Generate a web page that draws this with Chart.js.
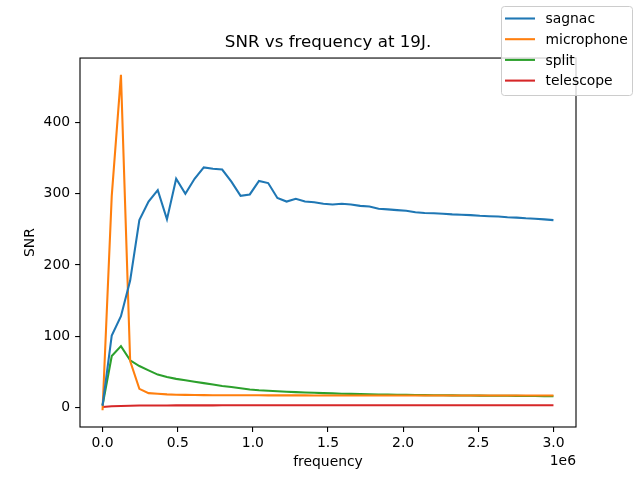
<!DOCTYPE html>
<html>
<head>
<meta charset="utf-8">
<script src="https://cdn.jsdelivr.net/npm/chart.js@4/dist/chart.umd.min.js"></script>
<style>
  html, body { margin: 0; padding: 0; background: #fff; }
  canvas { display: block; }
</style>
</head>
<body>
<canvas id="snrChart" width="640" height="480"></canvas>
<script>
// frequency steps (Hz)
const frequency = [0, 61224, 122449, 183673, 244898, 306122, 367347, 428571, 489796, 551020,
  612245, 673469, 734694, 795918, 857143, 918367, 979592, 1040816, 1102041, 1163265,
  1224490, 1285714, 1346939, 1408163, 1469388, 1530612, 1591837, 1653061, 1714286, 1775510,
  1836735, 1897959, 1959184, 2020408, 2081633, 2142857, 2204082, 2265306, 2326531, 2387755,
  2448980, 2510204, 2571429, 2632653, 2693878, 2755102, 2816327, 2877551, 2938776, 3000000];

const sagnac = [2, 101, 128, 178, 263, 289, 305, 264, 321, 300,
  321, 337, 335, 334, 317, 297, 299, 318, 315, 294,
  289, 293, 289, 288, 286, 285, 286, 285, 283, 282,
  279, 278, 277, 276, 274, 273, 272.5, 272, 271, 270.5,
  270, 269, 268.5, 268, 267, 266.5, 265.5, 265, 264, 263];

const microphone = [-4, 297, 467, 65, 26, 20, 19, 18.2, 17.8, 17.5,
  17.3, 17.2, 17.1, 17, 17, 16.9, 16.9, 16.9, 16.8, 16.8,
  16.8, 16.8, 16.8, 16.7, 16.7, 16.7, 16.7, 16.7, 16.7, 16.7,
  16.7, 16.7, 16.7, 16.6, 16.6, 16.6, 16.6, 16.6, 16.6, 16.6,
  16.6, 16.6, 16.6, 16.6, 16.6, 16.6, 16.6, 16.6, 16.6, 16.6];

const split = [3, 72, 86, 66, 58, 52, 46, 42.5, 40, 38,
  36, 34, 32, 30, 28.5, 26.7, 25, 24, 23.3, 22.6,
  22, 21.4, 20.9, 20.4, 20, 19.6, 19.2, 18.9, 18.6, 18.3,
  18.1, 17.9, 17.7, 17.5, 17.3, 17.2, 17, 16.9, 16.8, 16.7,
  16.6, 16.5, 16.4, 16.3, 16.2, 16.1, 16, 15.9, 15.8, 15.7];

const telescope = [0.5, 1.5, 2, 2.3, 2.5, 2.6, 2.7, 2.7, 2.8, 2.8,
  2.8, 2.8, 2.8, 2.9, 2.9, 2.9, 2.9, 2.9, 2.9, 2.9,
  2.9, 2.9, 2.9, 2.9, 2.9, 2.9, 2.9, 3, 3, 3,
  3, 3, 3, 3, 3, 3, 3, 3, 3, 3,
  3, 3, 3, 3, 3, 3, 3, 3, 3, 3];

const seriesNames = ['sagnac', 'microphone', 'split', 'telescope'];
const xTicks = [0, 500000, 1000000, 1500000, 2000000, 2500000, 3000000];
const yTicks = [0, 100, 200, 300, 400];

const ctx = document.getElementById('snrChart');
const FONT = "'DejaVu Sans', sans-serif";
const colors = ['#1f77b4', '#ff7f0e', '#2ca02c', '#d62728'];

function toPoints(values) {
  return values.map((v, i) => ({x: frequency[i], y: v}));
}

// spines, legend box and the 1e6 offset text, matplotlib style
const extras = {
  id: 'extras',
  afterLayout(chart) {
    const area = chart.chartArea;
    chart.titleBlock.left = area.left;
    chart.titleBlock.right = area.right;
  },
  afterDatasetsDraw(chart) {
    const c = chart.ctx;
    const a = chart.chartArea;
    c.save();
    c.strokeStyle = '#000';
    c.lineWidth = 1.1;
    c.strokeRect(a.left, a.top, a.right - a.left, a.bottom - a.top);
    c.restore();
  },
  afterDraw(chart) {
    const c = chart.ctx;
    c.save();
    // legend
    const bx = 501.5, by = 6.5, bw = 131, bh = 89, r = 3;
    c.beginPath();
    c.moveTo(bx + r, by);
    c.arcTo(bx + bw, by, bx + bw, by + bh, r);
    c.arcTo(bx + bw, by + bh, bx, by + bh, r);
    c.arcTo(bx, by + bh, bx, by, r);
    c.arcTo(bx, by, bx + bw, by, r);
    c.closePath();
    c.fillStyle = 'rgba(255,255,255,0.8)';
    c.fill();
    c.strokeStyle = '#cccccc';
    c.lineWidth = 1;
    c.stroke();
    c.font = '13.9px ' + FONT;
    c.textBaseline = 'middle';
    c.textAlign = 'left';
    chart.data.datasets.forEach((ds, i) => {
      const y = 18.5 + i * 20.7;
      c.strokeStyle = ds.borderColor;
      c.lineWidth = 2.08;
      c.beginPath();
      c.moveTo(505, y);
      c.lineTo(535, y);
      c.stroke();
      c.fillStyle = '#000';
      c.fillText(ds.label, 545.5, y + 1);
    });
    // offset text
    c.textAlign = 'right';
    c.fillText('1e6', chart.chartArea.right, 461.5);
    c.restore();
  }
};

new Chart(ctx, {
  type: 'line',
  data: {
    datasets: [sagnac, microphone, split, telescope].map((vals, i) => ({
      label: seriesNames[i],
      data: toPoints(vals),
      borderColor: colors[i],
      backgroundColor: colors[i],
      borderWidth: 2.08,
      pointRadius: 0,
      tension: 0,
      fill: false
    }))
  },
  options: {
    responsive: false,
    animation: false,
    layout: { padding: { left: 0, right: 64, top: 0, bottom: 0 } },
    plugins: {
      legend: { display: false },
      tooltip: { enabled: false },
      title: {
        display: true,
        text: 'SNR vs frequency at 19J.',
        color: '#000',
        font: { family: FONT, size: 16.7, weight: 'normal' },
        padding: { top: 33, bottom: 5 }
      }
    },
    scales: {
      x: {
        type: 'linear',
        min: -150000,
        max: 3150000,
        afterFit(scale) { scale.height = 53; },
        afterBuildTicks(scale) { scale.ticks = xTicks.map(v => ({value: v})); },
        border: { display: false },
        grid: { drawOnChartArea: false, drawTicks: true, tickLength: 4.9, color: '#000', lineWidth: 1.1 },
        ticks: {
          autoSkip: false,
          maxRotation: 0,
          padding: 3,
          color: '#000',
          font: { family: FONT, size: 13.9 },
          callback: v => (v / 1e6).toFixed(1)
        },
        title: {
          display: true,
          text: 'frequency',
          color: '#000',
          font: { family: FONT, size: 13.9 },
          padding: { top: 0, bottom: 9 }
        }
      },
      y: {
        type: 'linear',
        min: -27.6,
        max: 490.6,
        afterFit(scale) { scale.width = 80; },
        afterBuildTicks(scale) { scale.ticks = yTicks.map(v => ({value: v})); },
        border: { display: false },
        grid: { drawOnChartArea: false, drawTicks: true, tickLength: 4.9, color: '#000', lineWidth: 1.1 },
        ticks: {
          padding: 5,
          color: '#000',
          font: { family: FONT, size: 13.9 }
        },
        title: {
          display: true,
          text: 'SNR',
          color: '#000',
          font: { family: FONT, size: 13.9 },
          padding: { top: 22, bottom: 0 }
        }
      }
    }
  },
  plugins: [extras]
});
</script>
</body>
</html>
